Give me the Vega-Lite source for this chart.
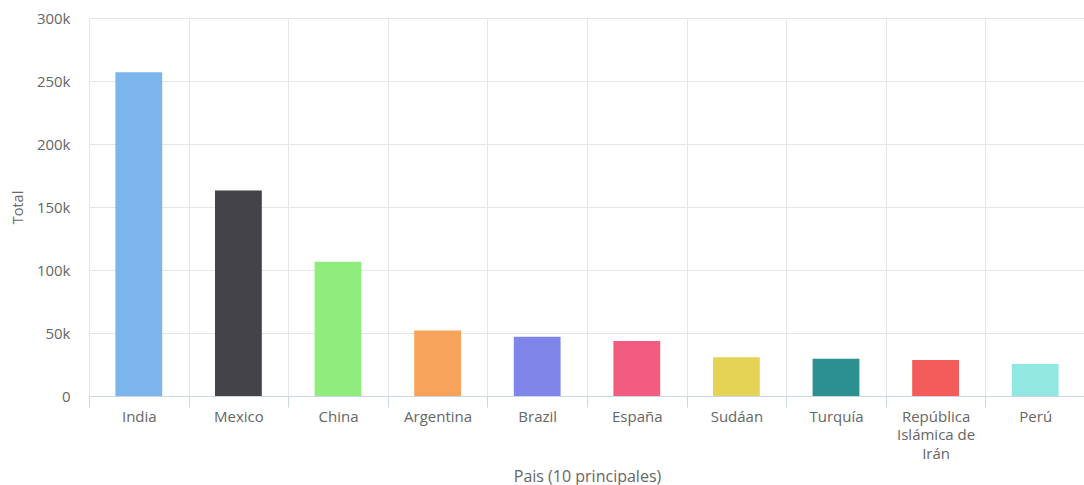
{
  "$schema": "https://vega.github.io/schema/vega-lite/v6.json",
  "width": 996,
  "height": 378,
  "autosize": {"type": "none"},
  "padding": {"left": 89, "top": 18, "right": -1, "bottom": 89},
  "background": "white",
  "config": {"view": {"stroke": null}, "font": "Open Sans"},
  "data": {"values": [
    {"pais": "India", "total": 257000, "color": "#7cb5ec"},
    {"pais": "Mexico", "total": 163000, "color": "#434348"},
    {"pais": "China", "total": 106500, "color": "#90ed7d"},
    {"pais": "Argentina", "total": 52000, "color": "#f7a35c"},
    {"pais": "Brazil", "total": 47000, "color": "#8085e9"},
    {"pais": "España", "total": 43600, "color": "#f15c80"},
    {"pais": "Sudáan", "total": 30700, "color": "#e4d354"},
    {"pais": "Turquía", "total": 29600, "color": "#2b908f"},
    {"pais": "República Islámica de Irán", "total": 28600, "color": "#f45b5b"},
    {"pais": "Perú", "total": 25400, "color": "#91e8e1"}
  ]},
  "mark": {"type": "bar", "width": {"band": 0.47}},
  "encoding": {
    "x": {
      "field": "pais", "type": "nominal", "sort": null,
      "scale": {"paddingInner": 0, "paddingOuter": 0},
      "axis": {
        "title": "Pais (10 principales)",
        "titleFont": "Open Sans", "titleFontSize": 16, "titleFontWeight": "normal", "titleColor": "#666666",
        "titleY": 80, "titleBaseline": "middle",
        "labelFont": "Open Sans", "labelFontSize": 15, "labelColor": "#666666",
        "labelAngle": 0, "labelPadding": 2, "labelLineHeight": 18.5,
        "labelExpr": "datum.value == 'República Islámica de Irán' ? ['República', 'Islámica de', 'Irán'] : datum.value",
        "tickBand": "extent", "tickSize": 11, "tickColor": "#ccd6eb",
        "domainColor": "#ccd6eb", "grid": true, "gridColor": "#e6e6e6"
      }
    },
    "y": {
      "field": "total", "type": "quantitative",
      "scale": {"domain": [0, 300000], "nice": false},
      "axis": {
        "title": "Total",
        "titleFont": "Open Sans", "titleFontSize": 14.5, "titleFontWeight": "normal", "titleColor": "#666666",
        "titleX": -71, "titleY": 189, "titleBaseline": "middle", "titleAlign": "center", "titleAngle": -90,
        "values": [0, 50000, 100000, 150000, 200000, 250000, 300000],
        "labelExpr": "datum.value == 0 ? '0' : (datum.value / 1000) + 'k'",
        "labelFont": "Open Sans", "labelFontSize": 15, "labelColor": "#666666",
        "labelPadding": 19, "ticks": false, "domain": false,
        "grid": true, "gridColor": "#e6e6e6"
      }
    },
    "color": {"field": "color", "type": "nominal", "scale": null, "legend": null}
  }
}
